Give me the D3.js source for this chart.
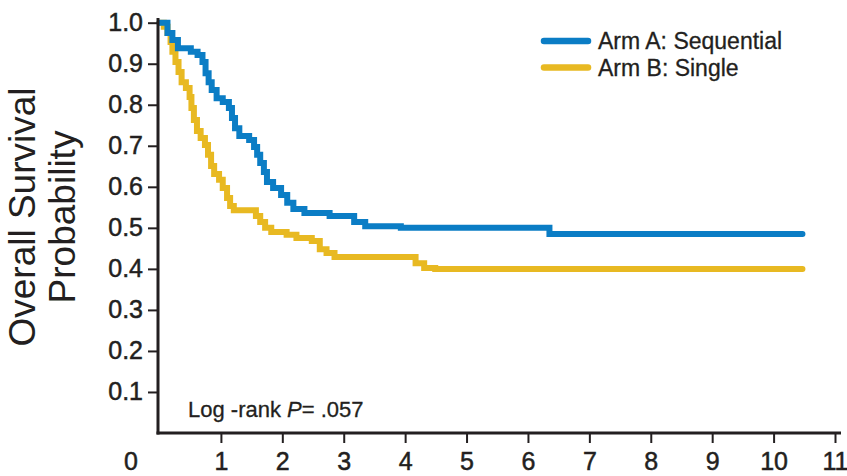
<!DOCTYPE html>
<html>
<head>
<meta charset="utf-8">
<script src="https://cdn.jsdelivr.net/npm/d3@7"></script>
<style>
  body { margin: 0; background: #fff; }
  svg text { font-family: "Liberation Sans", Arial, sans-serif; fill: #231f20; }
</style>
</head>
<body>
<svg id="chart" width="847" height="476"></svg>
<script>
// survival curves (years, probability after each drop)
var armA_times = [0, 0.13, 0.21, 0.30, 0.51, 0.62, 0.70, 0.75, 0.80, 0.85, 0.93, 1.03, 1.13, 1.18, 1.23, 1.30,
    1.46, 1.54, 1.59, 1.64, 1.70, 1.75, 1.85, 1.98, 2.08, 2.18, 2.36, 2.77, 3.17, 3.35, 3.93, 6.35, 10.47];
var armA_surv = [1.0, 0.975, 0.958, 0.938, 0.929, 0.921, 0.904, 0.877, 0.855, 0.836, 0.816, 0.807, 0.792, 0.768, 0.743, 0.724,
    0.714, 0.697, 0.678, 0.658, 0.636, 0.612, 0.597, 0.580, 0.561, 0.546, 0.536, 0.529, 0.514, 0.504, 0.500, 0.485, 0.485];

var armB_times = [0, 0.07, 0.13, 0.18, 0.21, 0.26, 0.31, 0.36, 0.43, 0.49, 0.52, 0.56, 0.61, 0.67, 0.74, 0.79, 0.84,
    0.89, 0.97, 1.03, 1.10, 1.15, 1.21, 1.57, 1.64, 1.72, 1.82, 2.07, 2.23, 2.48, 2.61, 2.72, 2.85, 4.17, 4.31, 4.49, 10.47];
var armB_surv = [1.0, 0.99, 0.975, 0.953, 0.929, 0.904, 0.880, 0.855, 0.841, 0.819, 0.792, 0.763, 0.736, 0.719, 0.702, 0.678, 0.651,
    0.631, 0.617, 0.597, 0.573, 0.553, 0.543, 0.529, 0.514, 0.500, 0.490, 0.483, 0.475, 0.468, 0.448, 0.439, 0.429, 0.414, 0.402, 0.400, 0.400];

var series_names = ["Arm A: Sequential", "Arm B: Single"];
var series_colors = ["#0b7dc5", "#e8b922"];

var x_ticks = [1, 2, 3, 4, 5, 6, 7, 8, 9, 10, 11];
var y_ticks = [0.1, 0.2, 0.3, 0.4, 0.5, 0.6, 0.7, 0.8, 0.9, 1.0];

var svg = d3.select("#chart");
var ink = "#231f20";

var x = d3.scaleLinear().domain([0, 11]).range([159.5, 835]);
var y = d3.scaleLinear().domain([0, 1]).range([433, 22.7]);

var toPoints = function(times, surv) {
    return times.map(function(t, i) { return [t, surv[i]]; });
};
var curves = [toPoints(armA_times, armA_surv), toPoints(armB_times, armB_surv)];

var line = d3.line()
    .x(function(d) { return x(d[0]); })
    .y(function(d) { return y(d[1]); })
    .curve(d3.curveStepAfter);

// curves first, the axes sit on top of them
svg.append("g")
    .selectAll("path")
    .data(curves.slice().reverse())
    .enter()
    .append("path")
    .attr("d", line)
    .attr("fill", "none")
    .attr("stroke", function(d, i) { return series_colors[1 - i]; })
    .attr("stroke-width", 6)
    .attr("stroke-linecap", "round")
    .attr("stroke-linejoin", "miter");

// y axis
var yAxis = svg.append("g")
    .attr("transform", "translate(158,0)")
    .call(d3.axisLeft(y).tickValues(y_ticks).tickFormat(d3.format(".1f")).tickSize(10).tickPadding(5));
yAxis.select(".domain").remove();
yAxis.append("line")
    .attr("x1", 0).attr("x2", 0)
    .attr("y1", 18).attr("y2", y(0) + 1.5)
    .attr("stroke", ink).attr("stroke-width", 3);

// x axis
var xAxis = svg.append("g")
    .attr("transform", "translate(0," + y(0) + ")")
    .call(d3.axisBottom(x).tickValues(x_ticks).tickFormat(d3.format("d")).tickSize(10).tickPadding(9));
xAxis.select(".domain").remove();
xAxis.append("line")
    .attr("x1", 156.5).attr("x2", 841)
    .attr("y1", 0).attr("y2", 0)
    .attr("stroke", ink).attr("stroke-width", 3);

svg.selectAll(".tick line").attr("stroke", ink).attr("stroke-width", 2);
svg.selectAll(".tick text")
    .style("font-size", "25px")
    .attr("fill", ink)
    .attr("stroke", ink)
    .attr("stroke-width", 0.5);

// the origin label sits off in the corner
svg.append("text")
    .attr("x", 131)
    .attr("y", 469.5)
    .attr("text-anchor", "middle")
    .attr("stroke", ink)
    .attr("stroke-width", 0.5)
    .style("font-size", "25px")
    .text("0");

// y title
var title = svg.append("g")
    .attr("transform", "translate(0,217) rotate(-90)")
    .style("font-size", "37px");
title.append("text")
    .attr("x", 0).attr("y", 35)
    .attr("text-anchor", "middle")
    .attr("fill", "#444")
    .text("Overall Survival");
title.append("text")
    .attr("x", 0).attr("y", 75)
    .attr("text-anchor", "middle")
    .attr("fill", "#444")
    .text("Probability");

// legend
var legend = svg.append("g")
    .selectAll("g")
    .data(series_names)
    .enter()
    .append("g")
    .attr("transform", function(d, i) { return "translate(544," + (41 + i * 26.5) + ")"; });
legend.append("line")
    .attr("x1", 0).attr("x2", 44)
    .attr("stroke", function(d, i) { return series_colors[i]; })
    .attr("stroke-width", 6.5)
    .attr("stroke-linecap", "round");
legend.append("text")
    .attr("x", 54)
    .attr("y", 8)
    .attr("stroke", ink)
    .attr("stroke-width", 0.3)
    .style("font-size", "23px")
    .text(function(d) { return d; });

// log-rank annotation
var note = svg.append("text")
    .attr("x", 188)
    .attr("y", 417)
    .attr("stroke", ink)
    .attr("stroke-width", 0.3)
    .style("font-size", "22px");
note.append("tspan").text("Log -rank ");
note.append("tspan").style("font-style", "italic").text("P");
note.append("tspan").text("= .057");
</script>
</body>
</html>
